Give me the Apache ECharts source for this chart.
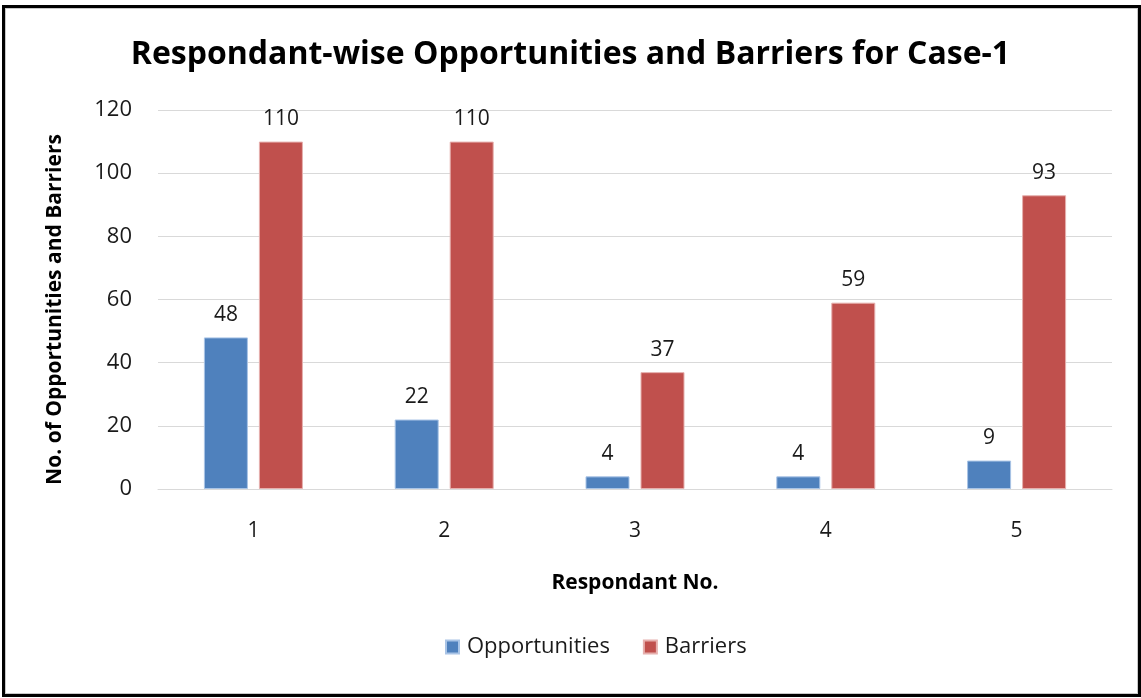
<!DOCTYPE html>
<html>
<head>
<meta charset="utf-8">
<title>Respondant-wise Opportunities and Barriers for Case-1</title>
<script src="https://cdn.jsdelivr.net/npm/echarts@6/dist/echarts.min.js"></script>
<style>
  html, body { margin: 0; padding: 0; background: #ffffff; }
  #frame {
    position: absolute; left: 2px; top: 5px; width: 1133px; height: 686px;
    border: 3px solid #000000; box-shadow: inset 0 0 0 1px #c8c8c8;
  }
  #chart { position: absolute; left: 0; top: 0; width: 1141px; height: 698px; }
</style>
</head>
<body>
<div id="frame"></div>
<div id="chart"></div>
<script>
// Respondent numbers and counts per respondent
const respondents = ['1', '2', '3', '4', '5'];
const opportunities = [48, 22, 4, 4, 9];
const barriers = [110, 110, 37, 59, 93];
const yTicks = { min: 0, max: 120, interval: 20 };

const FONT = '"Open Sans", Lato, sans-serif';
const chart = echarts.init(document.getElementById('chart'), null, { renderer: 'canvas' });

const labelStyle = {
  show: true, position: 'top', distance: 12,
  fontFamily: FONT, fontSize: 21, color: '#1a1a1a'
};

chart.setOption({
  animation: false,
  backgroundColor: 'transparent',
  title: {
    text: 'Respondant-wise Opportunities and Barriers for Case-1',
    left: 'center', top: 34,
    textStyle: { fontFamily: FONT, fontSize: 32, fontWeight: 'bold', color: '#000000' }
  },
  legend: {
    bottom: 35, left: 440,
    itemWidth: 13, itemHeight: 13, itemGap: 33,
    icon: 'rect',
    textStyle: { fontFamily: FONT, fontSize: 22, color: '#1a1a1a', padding: [0, 0, 0, 3] },
    data: ['Opportunities', 'Barriers']
  },
  grid: { left: 158, right: 29, top: 110, bottom: 209 },
  xAxis: {
    type: 'category',
    data: respondents,
    name: 'Respondant No.',
    nameLocation: 'middle',
    nameGap: 84,
    nameTextStyle: { fontFamily: FONT, fontSize: 21, fontWeight: 'bold', color: '#000000' },
    axisLine: { lineStyle: { color: '#d9d9d9', width: 1 } },
    axisTick: { show: false },
    axisLabel: { fontFamily: FONT, fontSize: 21, color: '#1a1a1a', margin: 32 }
  },
  yAxis: {
    type: 'value',
    min: yTicks.min, max: yTicks.max, interval: yTicks.interval,
    name: 'No. of Opportunities and Barriers',
    nameLocation: 'middle',
    nameGap: 92,
    nameRotate: 90,
    nameTextStyle: { fontFamily: FONT, fontSize: 21, fontWeight: 'bold', color: '#000000', padding: [0, 0, 0, -20] },
    axisLine: { show: false },
    axisTick: { show: false },
    splitLine: { lineStyle: { color: '#d9d9d9', width: 1 } },
    axisLabel: { fontFamily: FONT, fontSize: 22, color: '#1a1a1a', margin: 26 }
  },
  series: [
    {
      name: 'Opportunities', type: 'bar', data: opportunities,
      barWidth: 44, barGap: '25%',
      itemStyle: { color: '#4F81BD', borderColor: '#a9c4e6', borderWidth: 1 },
      label: labelStyle
    },
    {
      name: 'Barriers', type: 'bar', data: barriers,
      barWidth: 44,
      itemStyle: { color: '#C0504D', borderColor: '#e6b0ae', borderWidth: 1 },
      label: labelStyle
    }
  ]
});
</script>
</body>
</html>
